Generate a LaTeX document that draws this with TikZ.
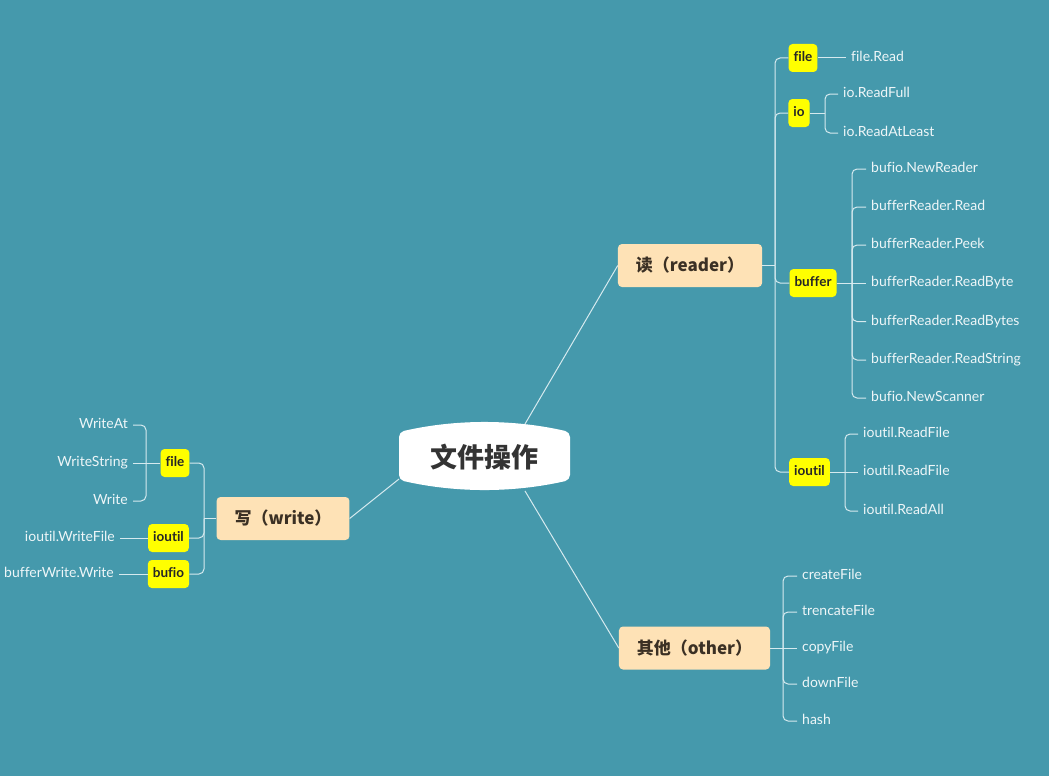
\documentclass[tikz,border=0pt]{standalone}
\usepackage{fontspec}
\setmainfont[Ligatures=NoCommon]{Lato}
\newfontfamily\cjk{Noto Sans CJK SC}
\usetikzlibrary{positioning}

\definecolor{bgc}{HTML}{4599AC}
\definecolor{linkc}{HTML}{D6EAEF}
\definecolor{leafc}{HTML}{EEF6F8}
\definecolor{mainc}{HTML}{FEE2B6}
\definecolor{maintext}{HTML}{3B3024}
\definecolor{tagc}{HTML}{FFFF00}

\begin{document}
\begin{tikzpicture}[x=1pt, y=-1pt,
    link/.style = {draw=linkc, line width=1pt, rounded corners=5pt},
    root/.style = {font=\cjk\bfseries\fontsize{27}{30}\selectfont, text=black!80},
    main/.style = {fill=mainc, rounded corners=4pt, minimum height=43pt, inner xsep=18pt,
                   font=\cjk\bfseries\fontsize{17}{19}\selectfont, text=maintext},
    tag/.style = {fill=tagc, rounded corners=4pt, minimum height=28pt, inner xsep=5pt,
                  text height=10pt, text depth=3pt,
                  font=\bfseries\fontsize{13.5}{15}\selectfont, text=black!85},
    leaf/.style = {anchor=west, inner xsep=5pt, text=leafc, text height=10.5pt, text depth=3pt,
                   font=\fontsize{14}{16}\selectfont},
    leafl/.style = {leaf, anchor=east}]
    \fill[bgc] (0,0) rectangle (1049,776);
    \useasboundingbox (0,0) rectangle (1049,776);

    % centre
    \fill[white, rounded corners=5pt] (399,432) .. controls (456,419) and (513,419) .. (570,432)
        -- (570,480) .. controls (513,493) and (456,493) .. (399,480) -- cycle;
    \node[root] (root) at (484,457) {文件操作};
    \coordinate (rootNE) at (525,424);
    \coordinate (rootSE) at (525,491);
    \coordinate (rootW) at (399,479);

    % main branches
    \node[main] (read) at (690,265.5) {读（reader）};
    \node[main] (write) at (283,518.5) {写（write）};
    \node[main] (other) at (694.5,648) {其他（other）};
    \draw[link] (rootNE) -- (read.west);
    \draw[link] (rootSE) -- (other.west);
    \draw[link] (rootW) -- (write.east);

    % reader
    \node[tag] (rfile) at (803,58) {file};
    \node[tag] (rio) at (799,113) {io};
    \node[tag] (rbuf) at (813,283) {buffer};
    \node[tag] (rioutil) at (809.5,472) {ioutil};
    \coordinate (rJ) at (775,265.5);
    \draw[link] (read.east) -- (rJ);
    \draw[link] (rJ) |- (rfile.west);
    \draw[link] (rJ) |- (rio.west);
    \draw[link] (rJ) |- (rbuf.west);
    \draw[link] (rJ) |- (rioutil.west);

    \node[leaf] (f1) at (846,58) {file.Read};
    \draw[link] (rfile.east) -- (f1.west);

    \node[leaf] (io1) at (838,94) {io.ReadFull};
    \node[leaf] (io2) at (838,133) {io.ReadAtLeast};
    \coordinate (ioJ) at (825,113);
    \draw[link] (rio.east) -- (ioJ);
    \draw[link] (ioJ) |- (io1.west);
    \draw[link] (ioJ) |- (io2.west);

    \node[leaf] (b1) at (866,169) {bufio.NewReader};
    \node[leaf] (b2) at (866,207) {bufferReader.Read};
    \node[leaf] (b3) at (866,245) {bufferReader.Peek};
    \node[leaf] (b4) at (866,283) {bufferReader.ReadByte};
    \node[leaf] (b5) at (866,321.5) {bufferReader.ReadBytes};
    \node[leaf] (b6) at (866,360) {bufferReader.ReadString};
    \node[leaf] (b7) at (866,398) {bufio.NewScanner};
    \coordinate (bJ) at (852,283);
    \draw[link] (rbuf.east) -- (b4.west);
    \draw[link] (bJ) |- (b1.west);
    \draw[link] (bJ) |- (b2.west);
    \draw[link] (bJ) |- (b3.west);
    \draw[link] (bJ) |- (b5.west);
    \draw[link] (bJ) |- (b6.west);
    \draw[link] (bJ) |- (b7.west);

    \node[leaf] (u1) at (858,434) {ioutil.ReadFile};
    \node[leaf] (u2) at (858,472) {ioutil.ReadFile};
    \node[leaf] (u3) at (858,511) {ioutil.ReadAll};
    \coordinate (uJ) at (845,472);
    \draw[link] (rioutil.east) -- (u2.west);
    \draw[link] (uJ) |- (u1.west);
    \draw[link] (uJ) |- (u3.west);

    % write
    \node[tag] (wfile) at (175,463) {file};
    \node[tag] (wioutil) at (168.5,538) {ioutil};
    \node[tag] (wbufio) at (168.5,574) {bufio};
    \coordinate (wJ) at (204,518.5);
    \draw[link] (write.west) -- (wJ);
    \draw[link] (wJ) |- (wfile.east);
    \draw[link] (wJ) |- (wioutil.east);
    \draw[link] (wJ) |- (wbufio.east);

    \node[leafl] (w1) at (133,425) {WriteAt};
    \node[leafl] (w2) at (133,463) {WriteString};
    \node[leafl] (w3) at (133,501) {Write};
    \coordinate (wfJ) at (146,463);
    \draw[link] (wfile.west) -- (w2.east);
    \draw[link] (wfJ) |- (w1.east);
    \draw[link] (wfJ) |- (w3.east);

    \node[leafl] (w4) at (120,538) {ioutil.WriteFile};
    \node[leafl] (w5) at (119,574) {bufferWrite.Write};
    \draw[link] (wioutil.west) -- (w4.east);
    \draw[link] (wbufio.west) -- (w5.east);

    % other
    \node[leaf] (o1) at (797,576) {createFile};
    \node[leaf] (o2) at (797,612) {trencateFile};
    \node[leaf] (o3) at (797,648) {copyFile};
    \node[leaf] (o4) at (797,684) {downFile};
    \node[leaf] (o5) at (797,721) {hash};
    \coordinate (oJ) at (783,648);
    \draw[link] (other.east) -- (o3.west);
    \draw[link] (oJ) |- (o1.west);
    \draw[link] (oJ) |- (o2.west);
    \draw[link] (oJ) |- (o4.west);
    \draw[link] (oJ) |- (o5.west);
\end{tikzpicture}
\end{document}
